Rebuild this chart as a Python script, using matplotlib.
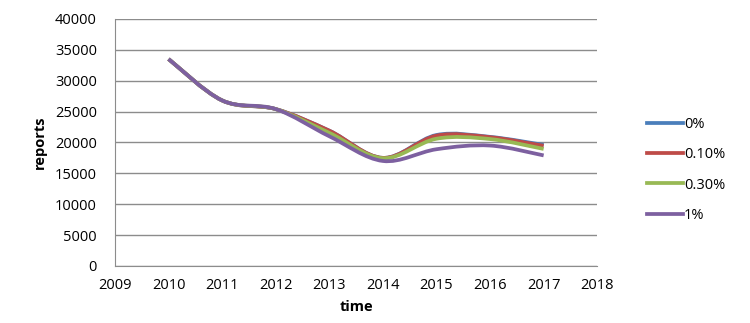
import matplotlib
matplotlib.use('Agg')
import matplotlib.pyplot as plt
from matplotlib.path import Path
from matplotlib.patches import PathPatch
from matplotlib.lines import Line2D

plt.rcParams['font.family'] = ['Open Sans', 'DejaVu Sans']

# 데이터
years = [2010, 2011, 2012, 2013, 2014, 2015, 2016, 2017]
labels = ['0%', '0.10%', '0.30%', '1%']
s_0 = [33500, 26800, 25400, 21900, 17500, 21200, 20900, 19600]
s_010 = [33500, 26800, 25400, 21900, 17500, 21100, 20850, 19450]
s_030 = [33500, 26800, 25400, 21550, 17450, 20600, 20550, 18950]
s_1 = [33500, 26800, 25400, 21000, 17000, 18900, 19500, 17900]
series = [s_0, s_010, s_030, s_1]
colors = ['#4A7EBB', '#BE4B48', '#98B954', '#7D60A0']


def smooth_path(xs, ys):
    # 엑셀식 부드러운 선 (베지어 곡선)
    pts = list(zip(xs, ys))
    verts = [pts[0]]
    codes = [Path.MOVETO]
    n = len(pts)
    for i in range(n - 1):
        p0 = pts[i - 1] if i > 0 else pts[i]
        p1 = pts[i]
        p2 = pts[i + 1]
        p3 = pts[i + 2] if i + 2 < n else pts[i + 1]
        c1 = (p1[0] + (p2[0] - p0[0]) / 6, p1[1] + (p2[1] - p0[1]) / 6)
        c2 = (p2[0] - (p3[0] - p1[0]) / 6, p2[1] - (p3[1] - p1[1]) / 6)
        verts += [c1, c2, p2]
        codes += [Path.CURVE4] * 3
    return Path(verts, codes)


fig = plt.figure(figsize=(7.5, 3.23), dpi=100)
ax = fig.add_axes([0.1533, 0.1765, 0.643, 0.765])

for vals, c in zip(series, colors):
    patch = PathPatch(smooth_path(years, vals), facecolor='none', edgecolor=c,
                      lw=2.7, capstyle='butt', joinstyle='round')
    ax.add_patch(patch)

ax.set_xlim(2009, 2018)
ax.set_ylim(0, 40000)
ax.set_xticks(range(2009, 2019))
ax.set_yticks(range(0, 40001, 5000))
ax.yaxis.grid(True, color='#8C8C8C', lw=1)
ax.set_axisbelow(True)
for side in ['top', 'right']:
    ax.spines[side].set_visible(False)
for side in ['left', 'bottom']:
    ax.spines[side].set_color('#8C8C8C')
ax.tick_params(length=0, labelsize=10.5)
ax.tick_params(axis='x', pad=9)
ax.tick_params(axis='y', pad=13)
ax.set_xlabel('time', fontsize=10.5, fontweight='bold', labelpad=5)
ax.set_ylabel('reports', fontsize=10.5, fontweight='bold', labelpad=6)

handles = [Line2D([0], [0], color=c, lw=2.7) for c in colors]
fig.legend(handles, labels, loc='center left', bbox_to_anchor=(0.845, 0.474),
           frameon=False, fontsize=10.5, handlelength=2.5, handletextpad=0.05,
           labelspacing=1.05)

fig.savefig('out.png', dpi=100)
